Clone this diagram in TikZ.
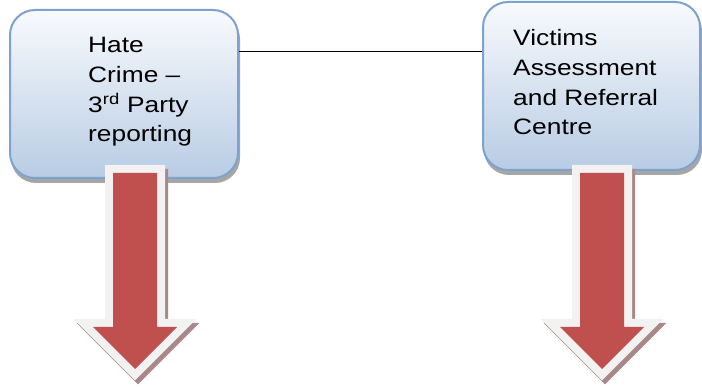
\documentclass[tikz,border=0pt]{standalone}
\usepackage{fontspec}
\setmainfont{Liberation Sans}
\usetikzlibrary{calc}
\definecolor{boxtop}{HTML}{F8FAFD}
\definecolor{boxbottom}{HTML}{B8CCE4}
\definecolor{boxline}{HTML}{7EA2CE}
\definecolor{arrowred}{HTML}{C0504D}
\definecolor{arrowrim}{HTML}{F2F2F2}
\definecolor{arrowshade}{HTML}{A88888}
\tikzset{
  stage/.style={draw=boxline, line width=2pt, rounded corners=25pt, inner sep=0pt,
    top color=boxtop, bottom color=boxbottom},
  stageshadow/.style={fill=black!35, rounded corners=25pt},
  stagetext/.style={font=\fontsize{22.3}{29.7}\selectfont, align=left, anchor=base west,
    inner sep=0pt, xscale=1.18},
  arrowshadow/.style={draw=arrowshade, fill=arrowshade, line width=16pt, miter limit=4},
  arrowrimline/.style={draw=arrowrim, fill=arrowrim, line width=16pt, miter limit=4},
  arrowbody/.style={fill=arrowred}
}

\begin{document}
\begin{tikzpicture}[x=1pt, y=-1pt]
\useasboundingbox (0,0) rectangle (702,390);
% box shadows
\fill[stageshadow] (11,14) rectangle (240,183);
\fill[stageshadow] (484,6) rectangle (702,175);
% boxes
\node[stage, minimum width=228pt, minimum height=168pt] (hate) at (124,94) {};
\node[stage, minimum width=217pt, minimum height=168pt] (varc) at (591.5,86) {};
% texts (anchored at the baseline of their last line)
\node[stagetext] (hatetext) at (88,142) {Hate\\Crime –\\3\textsuperscript{rd} Party\\reporting};
\node[stagetext] (varctext) at (513,135) {Victims\\Assessment\\and Referral\\Centre};
% link between the boxes
\coordinate (link) at (360,52);
\draw[line width=1pt] (hate.east |- link) -- (varc.west |- link);
% block arrows
\foreach \x in {135,602} {
  \filldraw[arrowshadow, shift={(3,4)}] ({\x-22},173) -- ({\x+22},173) -- ({\x+22},327) -- ({\x+42},327)
    -- (\x,369) -- ({\x-42},327) -- ({\x-22},327) -- cycle;
  \filldraw[arrowrimline] ({\x-22},173) -- ({\x+22},173) -- ({\x+22},327) -- ({\x+42},327)
    -- (\x,369) -- ({\x-42},327) -- ({\x-22},327) -- cycle;
  \fill[arrowbody] ({\x-22},173) -- ({\x+22},173) -- ({\x+22},327) -- ({\x+42},327)
    -- (\x,369) -- ({\x-42},327) -- ({\x-22},327) -- cycle;
}
\end{tikzpicture}
\end{document}
